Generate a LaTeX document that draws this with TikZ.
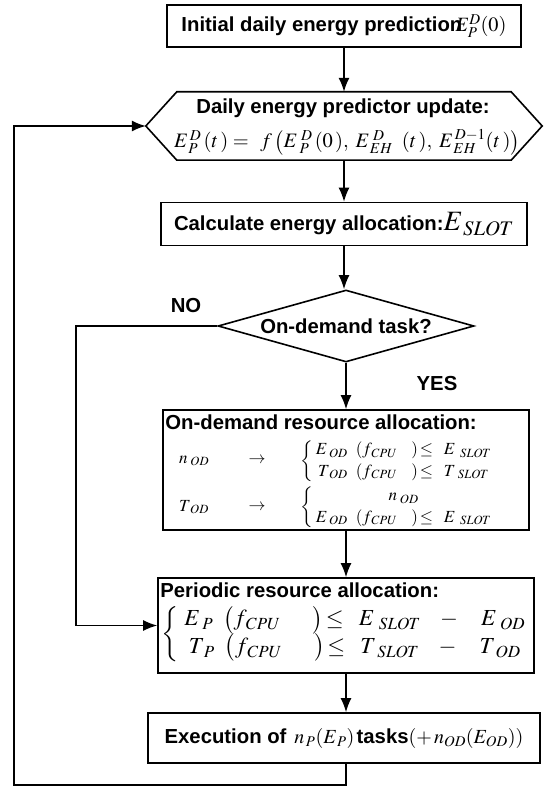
\documentclass[tikz,border=0pt]{standalone}
\usepackage{mathptmx}
\usepackage{amsmath}
\usepackage[no-math]{fontspec}
\newfontfamily\arialfont{Liberation Sans}
\usetikzlibrary{arrows.meta,shapes.geometric}
\begin{document}
\begin{tikzpicture}[x=1pt,y=-1pt,
  box/.style={draw,line width=1.6pt,rectangle,inner sep=0pt},
  lbl/.style={font=\arialfont\bfseries\fontsize{20.3}{22}\selectfont,inner sep=0pt},
  mth/.style={inner sep=0pt,font=\fontsize{17}{19}\selectfont},
  mthb/.style={inner sep=0pt,font=\fontsize{23}{24}\selectfont},
  arr/.style={line width=1.5pt,-{Latex[length=14pt,width=11pt]}},
  ln/.style={line width=1.5pt}]
\useasboundingbox (0,0) rectangle (548,791);

% initial box
\node[box,lbl,minimum width=354pt,minimum height=42pt] (init) at (344,26)
  {Initial daily energy prediction\hspace{-7pt}$E_P^D(0)$};

% hexagon
\node[inner sep=0pt,minimum width=396pt,minimum height=68pt] (hex) at (344,126) {};
\draw[line width=1.6pt] (hex.west) -- ([xshift=31pt]hex.north west) -- ([xshift=-31pt]hex.north east)
  -- (hex.east) -- ([xshift=-31pt]hex.south east) -- ([xshift=31pt]hex.south west) -- cycle;
\node[lbl] (hexT) at (343,108) {Daily energy predictor update:};
\node[inner sep=0pt,font=\fontsize{20.5}{22}\selectfont] (hexF) at (347,142)
  {$E_{\,P}^{\,D}\,(t\,)=\;\,f\,\bigl(E_{\;P}^{\;D}\,(0\,),\;E_{\,EH}^{\;D}\;\;(t\,),\;E_{\,EH}^{\,D-1}(t\,)\bigr)$};

% calculate box
\node[box,lbl,minimum width=366pt,minimum height=43pt] (calc) at (344,224)
  {Calculate energy allocation:{\fontsize{28}{28}\selectfont$E_{\,SLOT}$}};

% decision
\node[draw,diamond,line width=1.6pt,aspect=3.55,minimum width=256pt,minimum height=72pt,
  inner sep=0pt,lbl] (dec) at (346,326) {On-demand task?};
\node[lbl] (no) at (186,306) {NO};
\node[lbl] (yes) at (437,384) {YES};

% on-demand box
\node[box,minimum width=366pt,minimum height=120pt] (od) at (346,470) {};
\node[lbl,anchor=west] (odT) at ([xshift=3pt,yshift=-13pt]od.north west) {On-demand resource allocation:};
\node[mth,anchor=west] (r1a) at (179,461) {$n_{\;OD}$};
\node[mth] (r1b) at (257,460) {$\rightarrow$};
\node[mth,anchor=west] (r1c) at (300,461)
  {\renewcommand{\arraystretch}{1.15}$\left\{\hspace{3pt}\begin{array}{@{}c@{}}
   E_{\;OD}\hspace{8pt}(f_{\,CPU}\hspace{14pt})\!\le\hspace{7pt} E_{\hspace{6pt}SLOT}\\
   T_{\;OD}\hspace{8pt}(f_{\,CPU}\hspace{14pt})\!\le\hspace{7pt} T_{\hspace{6pt}SLOT}\end{array}\right.$};
\node[mth,anchor=west] (r2a) at (179,507) {$T_{\;OD}$};
\node[mth] (r2b) at (257,507) {$\rightarrow$};
\node[mth,anchor=west] (r2c) at (300,507)
  {\renewcommand{\arraystretch}{1.15}$\left\{\hspace{3pt}\begin{array}{@{}c@{}}
   n_{\;OD}\\
   E_{\;OD}\hspace{8pt}(f_{\,CPU}\hspace{14pt})\!\le\hspace{7pt} E_{\hspace{6pt}SLOT}\end{array}\right.$};

% periodic box
\node[box,minimum width=376pt,minimum height=95pt] (per) at (346,625.5) {};
\node[lbl,anchor=west] (perT) at ([xshift=3pt,yshift=-13pt]per.north west) {Periodic resource allocation:};
\node[mthb,anchor=west] (perF) at (161,634)
  {\renewcommand{\arraystretch}{1.0}$\left\{\hspace{6pt}\begin{array}{@{}c@{}}
   E_{\;P}\hspace{10pt}\bigl(f_{\,CPU}\hspace{32pt}\bigr)\!\le\hspace{10pt} E_{\hspace{6pt}SLOT}\hspace{16pt}-\hspace{20pt}E_{\hspace{5pt}OD}\\
   T_{\;P}\hspace{10pt}\bigl(f_{\,CPU}\hspace{32pt}\bigr)\!\le\hspace{10pt} T_{\hspace{6pt}SLOT}\hspace{16pt}-\hspace{20pt}T_{\hspace{5pt}OD}\end{array}\right.$};

% execution box
\node[box,lbl,minimum width=392pt,minimum height=50pt] (exe) at (344,738)
  {Execution of {\fontsize{20}{20}\selectfont$\,n_{\,P}(E_{\,P})\,$}tasks{\fontsize{20}{20}\selectfont$(+\,n_{OD}(E_{OD}))$}};

% connectors
\draw[arr] (init.south) -- (init.south |- hex.north);
\draw[arr] (hex.south) -- (hex.south |- calc.north);
\draw[arr] (calc.south) -- (calc.south |- dec.north);
\draw[arr] (dec.south) -- (od.north);
\draw[arr] (od.south) -- (per.north);
\draw[arr] (per.south) -- (per.south |- exe.north);
\coordinate (noc) at (76,326);
\draw[arr] (dec.west) -- (noc) |- (per.west);
\coordinate (loopc) at (14,785);
\draw[arr] (per.south |- exe.south) |- (loopc) |- (hex.west);
\end{tikzpicture}
\end{document}
